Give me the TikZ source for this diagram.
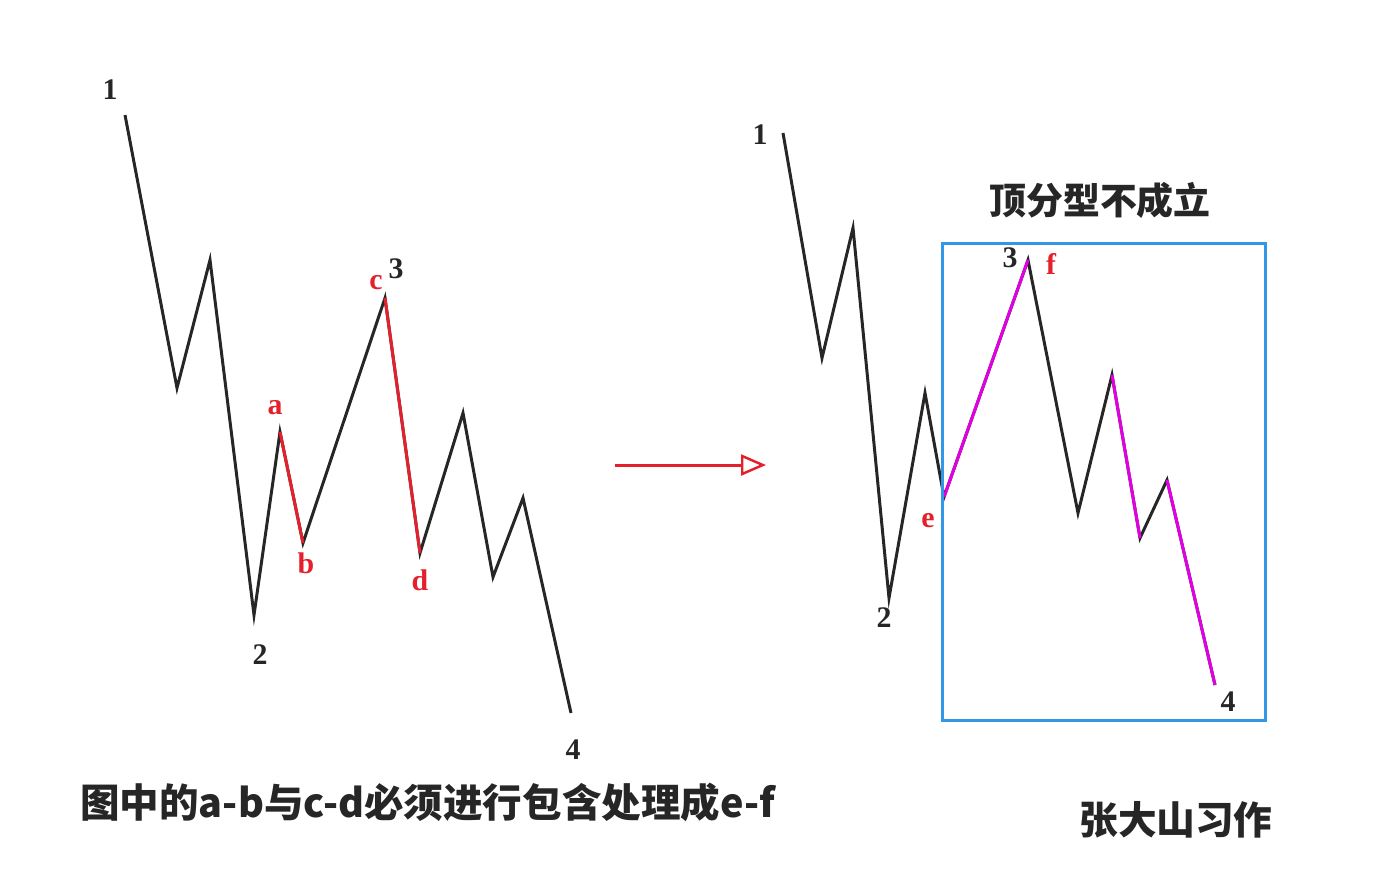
\documentclass[tikz,border=0pt]{standalone}
\usepackage{fontspec}
\setmainfont{Liberation Serif}
\newfontfamily\cjk{Noto Sans CJK SC}
\usepackage{xcolor}
\usetikzlibrary{arrows.meta, positioning}

\definecolor{wred}{RGB}{228,32,44}
\definecolor{wmag}{RGB}{226,0,226}
\definecolor{wblue}{RGB}{52,150,230}

\begin{document}
\begin{tikzpicture}[
    x=0.02cm, y=-0.02cm,
    wave/.style={line width=1.7pt, black!85, line join=miter},
    redseg/.style={line width=1.7pt, wred},
    magseg/.style={line width=1.7pt, wmag},
    lbl/.style={font=\fontsize{17}{17}\selectfont\bfseries, inner sep=0pt, text=black!85},
    redlbl/.style={lbl, text=wred},
    cn/.style={font=\cjk\bfseries\fontsize{21}{21}\selectfont, inner sep=0pt, text=black!85},
    ar/.style={-{Triangle[open, length=0.5cm, width=0.42cm, line width=1.4pt]}, line width=1.7pt, wred}
  ]
  \useasboundingbox (0,0) rectangle (1375,887);

  % left wave
  \coordinate (L1) at (125,115);
  \coordinate (Lp1) at (177,388);
  \coordinate (Lp2) at (210,260);
  \coordinate (L2) at (254,615);
  \coordinate (La) at (280,432);
  \coordinate (Lb) at (303,543);
  \coordinate (L3) at (385,298);
  \coordinate (Ld) at (420,553);
  \coordinate (Lp3) at (463,413);
  \coordinate (Lp4) at (493,577);
  \coordinate (Lp5) at (523,498);
  \coordinate (L4) at (571,713);
  \draw[wave] (L1) -- (Lp1) -- (Lp2) -- (L2) -- (La) -- (Lb) -- (L3) -- (Ld) -- (Lp3) -- (Lp4) -- (Lp5) -- (L4);
  \draw[redseg] (La) -- (Lb);
  \draw[redseg] (L3) -- (Ld);

  \node[lbl] (tL1) at (110,90) {1};
  \node[lbl] (tL2) at (260,655) {2};
  \node[redlbl] (ta) at (275,408) {a};
  \node[redlbl] (tb) at (306,563) {b};
  \node[redlbl] (tc) at (376,283) {c};
  \node[lbl] (tL3) at (396,269) {3};
  \node[redlbl] (td) at (420,580) {d};
  \node[lbl] (tL4) at (573,750) {4};

  % arrow
  \coordinate (arS) at (615,465);
  \coordinate (arE) at (766,465);
  \draw[ar] (arS) -- (arE);

  % right wave
  \coordinate (R1) at (783,133);
  \coordinate (Rp1) at (822,358);
  \coordinate (Rp2) at (853,228);
  \coordinate (R2) at (889,598);
  \coordinate (Rp3) at (925,393);
  \coordinate (Re) at (944,497);
  \coordinate (R3) at (1028,260);
  \coordinate (Rp4) at (1078,513);
  \coordinate (Rp5) at (1112,375);
  \coordinate (Rp6) at (1140,538);
  \coordinate (Rp7) at (1167,480);
  \coordinate (R4) at (1215,685);
  \draw[wave] (R1) -- (Rp1) -- (Rp2) -- (R2) -- (Rp3) -- (Re) -- (R3) -- (Rp4) -- (Rp5) -- (Rp6) -- (Rp7) -- (R4);
  \draw[magseg] (Re) -- (R3);
  \draw[magseg] (Rp5) -- (Rp6);
  \draw[magseg] (Rp7) -- (R4);

  \node[lbl] (tR1) at (760,135) {1};
  \node[lbl] (tR2) at (884,618) {2};
  \node[redlbl] (te) at (928,521) {e};
  \node[lbl] (tR3) at (1010,258) {3};
  \node[redlbl] (tf) at (1051,264) {f};
  \node[lbl] (tR4) at (1228,702) {4};

  \draw[wblue, line width=1.7pt] (942,243) rectangle (1265,720);
  \node[cn] (title) at (1100,200) {顶分型不成立};

  % captions
  \node[cn, font=\cjk\bfseries\fontsize{22.5}{22.5}\selectfont, anchor=west] (note) at (80,802) {图中的a-b与c-d必须进行包含处理成e-f};
  \node[cn, font=\cjk\bfseries\fontsize{22}{22}\selectfont] (sig) at (1176,820) {张大山习作};
\end{tikzpicture}
\end{document}
